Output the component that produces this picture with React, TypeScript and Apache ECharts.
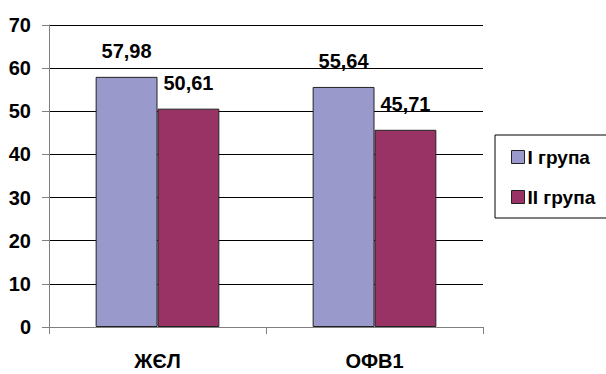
import React, { useEffect, useRef } from "react";
import * as echarts from "echarts";

const categories = ["ЖЄЛ", "ОФВ1"];
const seriesNames = ["I група", "II група"];
const group1 = [57.98, 55.64];
const group2 = [50.61, 45.71];
const colors = ["#9999cc", "#993366"];

const SANS = '"Liberation Sans", Arial, sans-serif';

export default function App() {
  const ref = useRef<HTMLDivElement>(null);
  useEffect(() => {
    if (!ref.current) return;
    const chart = echarts.init(ref.current, null, { renderer: "svg" });
    const fmt = (p: any) => String(p.value.toFixed(2)).replace(".", ",");
    const makeSeries = (name: string, data: number[], color: string) => ({
      name,
      type: "bar",
      data,
      barGap: "0%",
      barCategoryGap: "43%",
      itemStyle: { color, borderColor: "#222", borderWidth: 1 },
      label: {
        show: true,
        position: "top",
        distance: 16,
        formatter: fmt,
        color: "#000",
        fontFamily: SANS,
        fontWeight: "bold",
        fontSize: 20,
      },
    });
    chart.setOption({
      animation: false,
      backgroundColor: "#fff",
      grid: { left: 49, right: 123, top: 25, bottom: 47, containLabel: false },
      legend: {
        orient: "vertical",
        left: 495,
        top: 135,
        padding: [12, 14, 11, 16],
        borderColor: "#000",
        borderWidth: 1,
        itemWidth: 13,
        itemHeight: 13,
        itemGap: 20,
        icon: "rect",
        data: seriesNames,
        itemStyle: { borderColor: "#222", borderWidth: 1 },
        textStyle: { fontFamily: SANS, fontWeight: "bold", fontSize: 19, lineHeight: 20, color: "#000", padding: [0, 0, 0, -2] },
      },
      xAxis: {
        type: "category",
        data: categories,
        axisLine: { lineStyle: { color: "#808080", width: 1 } },
        axisTick: { show: true, length: 7, lineStyle: { color: "#808080" } },
        axisLabel: { margin: 24, fontFamily: SANS, fontWeight: "bold", fontSize: 20, color: "#000" },
      },
      yAxis: {
        type: "value",
        min: 0,
        max: 70,
        interval: 10,
        axisLine: { show: true, lineStyle: { color: "#808080", width: 1 } },
        axisTick: { show: true, length: 7, lineStyle: { color: "#808080" } },
        axisLabel: { margin: 18, fontFamily: SANS, fontWeight: "bold", fontSize: 20, color: "#000" },
        splitLine: { show: true, lineStyle: { color: "#000", width: 1 } },
      },
      series: [
        makeSeries(seriesNames[0], group1, colors[0]),
        makeSeries(seriesNames[1], group2, colors[1]),
      ],
    });
    return () => chart.dispose();
  }, []);
  return (
    <div
      ref={ref}
      style={{ position: "absolute", left: 0, top: 0, width: 606, height: 374, background: "#fff" }}
    />
  );
}
